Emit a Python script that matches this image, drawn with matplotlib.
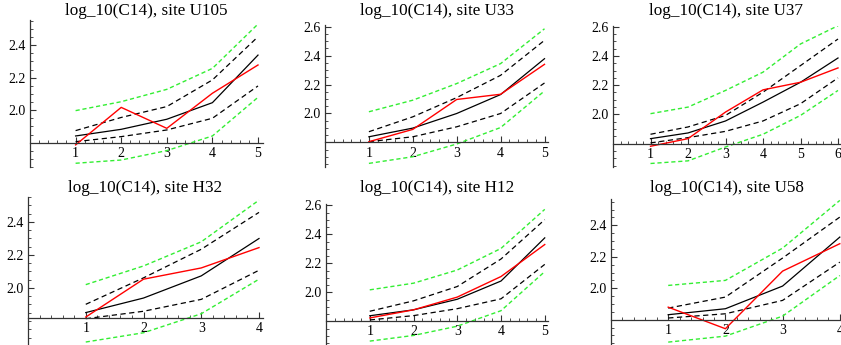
import numpy as np
import matplotlib.pyplot as plt
from matplotlib.ticker import MultipleLocator

plt.rcParams['font.family'] = ['Liberation Serif', 'DejaVu Serif']

sites = ['U105', 'U33', 'U37', 'H32', 'H12', 'U58']

# black solid: fitted mean, black dashed: inner band, green dashed: outer band, red: observed
mean_U105 = [1.841, 1.882, 1.944, 2.046, 2.339]
hi_U105 = [1.874, 1.955, 2.022, 2.186, 2.452]
lo_U105 = [1.806, 1.837, 1.878, 1.950, 2.149]
hi2_U105 = [1.997, 2.052, 2.128, 2.257, 2.530]
lo2_U105 = [1.673, 1.693, 1.751, 1.841, 2.079]
obs_U105 = [1.786, 2.017, 1.888, 2.104, 2.278]

mean_U33 = [1.839, 1.899, 2.000, 2.131, 2.379]
hi_U33 = [1.874, 1.977, 2.110, 2.264, 2.506]
lo_U33 = [1.805, 1.839, 1.908, 2.000, 2.211]
hi2_U33 = [2.012, 2.092, 2.207, 2.345, 2.586]
lo2_U33 = [1.655, 1.701, 1.789, 1.903, 2.156]
obs_U33 = [1.805, 1.890, 2.097, 2.133, 2.340]

mean_U37 = [1.834, 1.873, 1.955, 2.084, 2.220, 2.386]
hi_U37 = [1.864, 1.914, 1.993, 2.152, 2.334, 2.516]
lo_U37 = [1.805, 1.841, 1.884, 1.955, 2.073, 2.250]
hi2_U37 = [2.005, 2.050, 2.164, 2.289, 2.482, 2.607]
lo2_U37 = [1.664, 1.682, 1.777, 1.864, 1.993, 2.164]
obs_U37 = [1.782, 1.834, 2.016, 2.168, 2.220, 2.318]

mean_H32 = [1.851, 1.939, 2.073, 2.299]
hi_H32 = [1.901, 2.061, 2.234, 2.457]
lo_H32 = [1.814, 1.859, 1.931, 2.107]
hi2_H32 = [2.020, 2.133, 2.279, 2.531]
lo2_H32 = [1.673, 1.729, 1.844, 2.053]
obs_H32 = [1.824, 2.053, 2.121, 2.244]

mean_H12 = [1.838, 1.879, 1.952, 2.078, 2.376]
hi_H12 = [1.869, 1.941, 2.040, 2.230, 2.502]
lo_H12 = [1.809, 1.839, 1.887, 1.955, 2.193]
hi2_H12 = [2.017, 2.063, 2.154, 2.303, 2.573]
lo2_H12 = [1.663, 1.702, 1.766, 1.873, 2.143]
obs_H12 = [1.823, 1.879, 1.967, 2.109, 2.330]

mean_U58 = [1.832, 1.870, 2.014, 2.325]
hi_U58 = [1.874, 1.944, 2.192, 2.452]
lo_U58 = [1.811, 1.838, 1.923, 2.166]
hi2_U58 = [2.018, 2.050, 2.255, 2.558]
lo2_U58 = [1.658, 1.696, 1.823, 2.081]
obs_U58 = [1.880, 1.743, 2.109, 2.283]

data = {
    'U105': (mean_U105, hi_U105, lo_U105, hi2_U105, lo2_U105, obs_U105),
    'U33': (mean_U33, hi_U33, lo_U33, hi2_U33, lo2_U33, obs_U33),
    'U37': (mean_U37, hi_U37, lo_U37, hi2_U37, lo2_U37, obs_U37),
    'H32': (mean_H32, hi_H32, lo_H32, hi2_H32, lo2_H32, obs_H32),
    'H12': (mean_H12, hi_H12, lo_H12, hi2_H12, lo2_H12, obs_H12),
    'U58': (mean_U58, hi_U58, lo_U58, hi2_U58, lo2_U58, obs_U58),
}

# layout in pixels: x of origin, px per x unit, xmax, top px, bottom px, ylim, axis origin y
layout = {
    'U105': (30, 45.6, 5.1, 20, 167, (1.65, 2.555), 1.8),
    'U33': (325, 43.9, 5.08, 25, 167, (1.63, 2.612), 1.8),
    'U37': (613, 37.5, 6.05, 26, 167, (1.64, 2.605), 1.8),
    'H32': (28, 57.75, 4.07, 197, 345, (1.655, 2.55), 1.818),
    'H12': (326, 43.75, 5.07, 204, 344, (1.643, 2.61), 1.8),
    'U58': (611, 57.2, 4.07, 199, 344, (1.646, 2.567), 1.8),
}

W, H = 841, 345
fig = plt.figure(figsize=(W / 100, H / 100), dpi=100)

for i, s in enumerate(sites):
    x0, pxu, xmax, top, bot, ylim, yorig = layout[s]
    ax = fig.add_axes([x0 / W, (H - bot) / H, xmax * pxu / W, (bot - top) / H])
    ax.patch.set_alpha(0)
    mean, hi, lo, hi2, lo2, obs = data[s]
    x = np.arange(1, len(mean) + 1)
    ax.plot(x, hi2, color='#33ee33', lw=1.0, dashes=(3, 2))
    ax.plot(x, lo2, color='#33ee33', lw=1.0, dashes=(3, 2))
    ax.plot(x, hi, color='black', lw=0.9, dashes=(4.2, 2.8))
    ax.plot(x, lo, color='black', lw=0.9, dashes=(4.2, 2.8))
    ax.plot(x, mean, color='black', lw=0.9)
    ax.plot(x, obs, color='red', lw=1.0)

    ax.set_xlim(0, xmax)
    ax.set_ylim(*ylim)
    ax.spines['top'].set_visible(False)
    ax.spines['right'].set_visible(False)
    ax.spines['left'].set_position(('data', 0))
    ax.spines['bottom'].set_position(('data', yorig))
    for sp in ('left', 'bottom'):
        ax.spines[sp].set_color('#333333')
        ax.spines[sp].set_linewidth(0.9)

    ax.set_xticks(x)
    ax.set_xticklabels([str(v) for v in x])
    ax.xaxis.set_minor_locator(MultipleLocator(0.2))
    yt = [v for v in [2.0, 2.2, 2.4, 2.6] if v <= ylim[1] + 0.001]
    ax.set_yticks(yt)
    ax.set_yticklabels(['%.1f' % v for v in yt])
    ax.yaxis.set_minor_locator(MultipleLocator(0.05))
    ax.tick_params(which='major', direction='in', length=4, width=0.8,
                   color='#333333', labelsize=10, pad=3)
    ax.tick_params(which='minor', direction='in', length=2.2, width=0.6,
                   color='#333333')

    ytitle = 15 if i < 3 else 192
    cx = (x0 + xmax * pxu / 2) / W
    fig.text(cx, (H - ytitle) / H, 'log_10(C14), site ' + s,
             ha='center', va='baseline', fontsize=12.3)

fig.savefig('out.png', dpi=100)
